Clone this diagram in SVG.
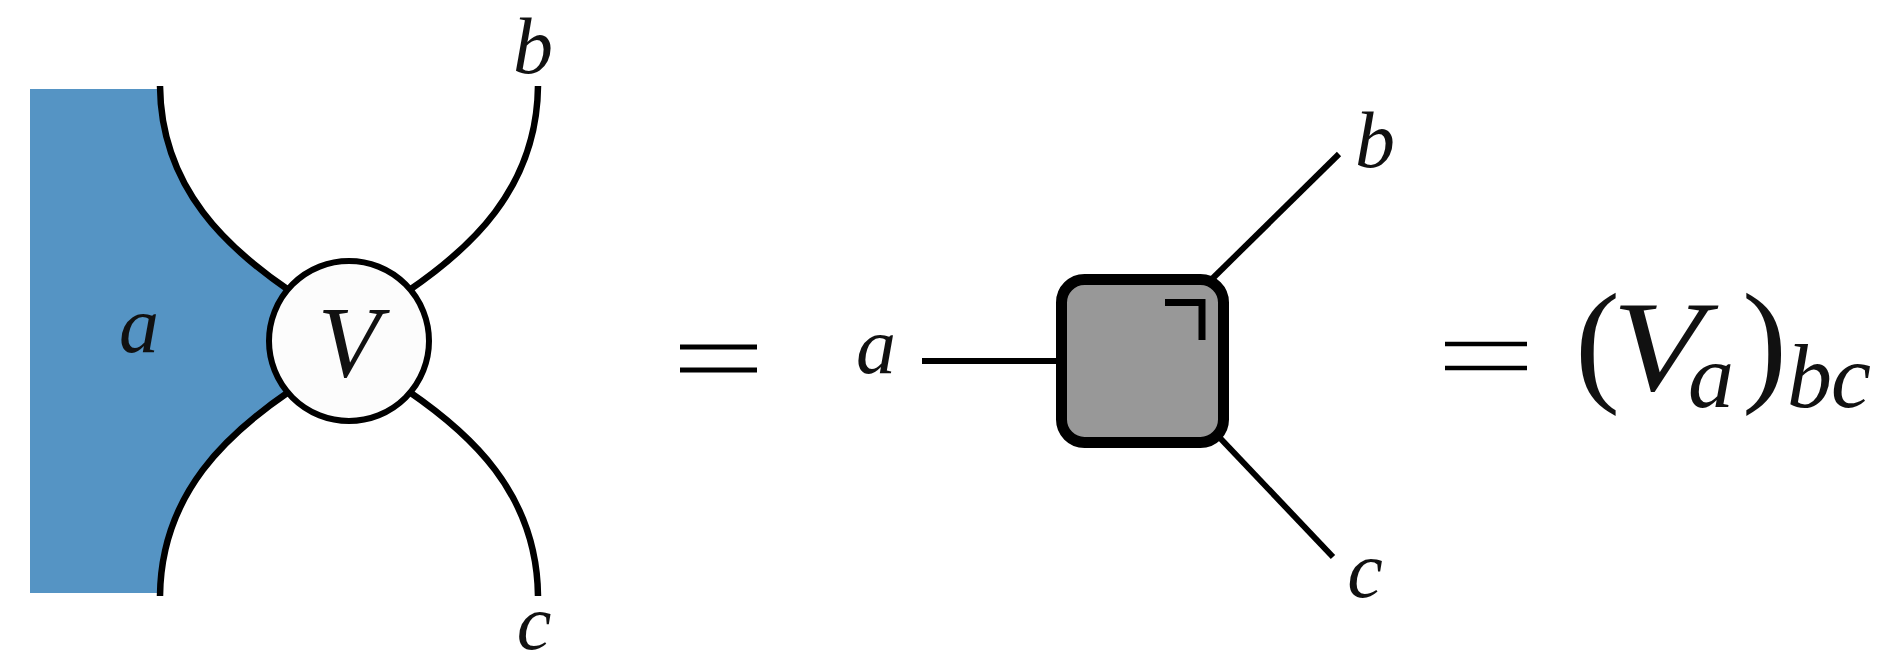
<svg xmlns="http://www.w3.org/2000/svg" width="1900" height="658" viewBox="0 0 1900 658">
<style>
.wire{fill:none;stroke:#000;stroke-width:6.5;stroke-linecap:butt}
.leg{fill:none;stroke:#000;stroke-width:6}
.it{font-family:"Liberation Serif","DejaVu Serif",serif;font-style:italic;fill:#111}
.rm{font-family:"Liberation Serif","DejaVu Serif",serif;fill:#111}
</style>
<rect width="1900" height="658" fill="#fff"/>
<g id="region-a">
<path d="M30,89 H160 C161,190 230,250 290,291 L349,341 L290,391 C230,432 161,492 160,593 H30 Z" fill="#5594C4"/>
</g>
<g id="connectors">
<path class="wire" d="M160,86 C161,190 230,250 290,291"/>
<path class="wire" d="M160,596 C161,492 230,432 290,391"/>
<path class="wire" d="M538,86 C537,190 468,250 408,291"/>
<path class="wire" d="M538,596 C537,492 468,432 408,391"/>
<line class="leg" x1="922" y1="361" x2="1062" y2="361"/>
<line class="leg" x1="1212" y1="279" x2="1339" y2="154"/>
<line class="leg" x1="1220" y1="438" x2="1333" y2="557"/>
</g>
<g id="node-V">
<circle cx="349" cy="341" r="80" fill="#FCFCFC" stroke="#000" stroke-width="6"/>
<text class="it" x="349" y="377" font-size="102" text-anchor="middle">V</text>
</g>
<g id="labels-left">
<text class="it" x="139" y="352" font-size="80" text-anchor="middle">a</text>
<text class="it" x="533" y="73" font-size="80" text-anchor="middle">b</text>
<text class="it" x="534" y="649" font-size="78" text-anchor="middle">c</text>
</g>
<g id="eq1">
<line x1="680" y1="347" x2="757" y2="347" stroke="#000" stroke-width="5"/>
<line x1="680" y1="370" x2="757" y2="370" stroke="#000" stroke-width="5"/>
</g>
<g id="node-box">
<rect x="1061.5" y="279.5" width="162" height="163" rx="23" fill="#989898" stroke="#000" stroke-width="11"/>
<path d="M1165,302.5 H1202 V340" fill="none" stroke="#000" stroke-width="7"/>
</g>
<g id="labels-right">
<text class="it" x="876" y="373" font-size="80" text-anchor="middle">a</text>
<text class="it" x="1375" y="167" font-size="80" text-anchor="middle">b</text>
<text class="it" x="1365" y="597" font-size="80" text-anchor="middle">c</text>
</g>
<g id="formula">
<line x1="1445" y1="344" x2="1527" y2="344" stroke="#000" stroke-width="4.5"/>
<line x1="1445" y1="368" x2="1527" y2="368" stroke="#000" stroke-width="4.5"/>
<text class="rm" x="1575" y="387" font-size="135">(</text>
<text class="it" x="1612" y="390" font-size="130" textLength="92" lengthAdjust="spacingAndGlyphs">V</text>
<text class="it" x="1688" y="407" font-size="92">a</text>
<text class="rm" x="1742" y="387" font-size="135">)</text>
<text class="it" x="1787" y="407" font-size="90">b</text>
<text class="it" x="1831" y="407" font-size="90">c</text>
</g>
</svg>
